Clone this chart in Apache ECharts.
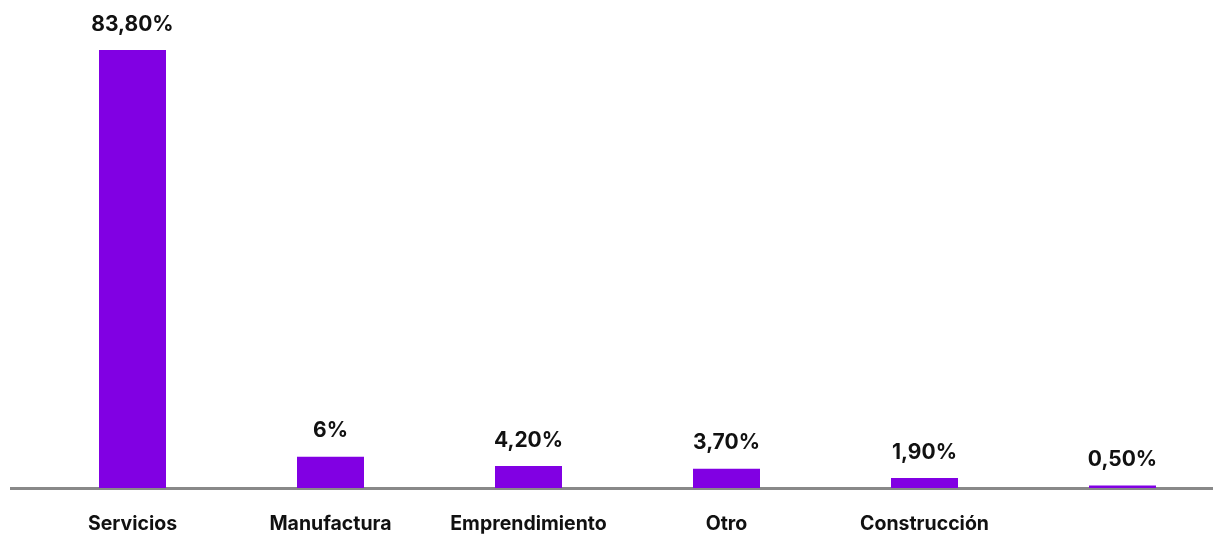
<!DOCTYPE html>
<html>
<head>
<meta charset="utf-8">
<script src="https://cdn.jsdelivr.net/npm/echarts@6/dist/echarts.min.js"></script>
<style>html,body{margin:0;padding:0;background:#fff}#c{width:1213px;height:535px}</style>
</head>
<body>
<div id="c"></div>
<script>
const categories = ['Servicios', 'Manufactura', 'Emprendimiento', 'Otro', 'Construcción', ''];
const values = [83.8, 6, 4.2, 3.7, 1.9, 0.5];
const valueLabels = ['83,80%', '6%', '4,20%', '3,70%', '1,90%', '0,50%'];

const chart = echarts.init(document.getElementById('c'), null, {renderer: 'canvas'});
const font = 'Inter, "Noto Sans", sans-serif';
chart.setOption({
  animation: false,
  grid: {left: 33.5, width: 1188, top: 50, bottom: 47, containLabel: false, outerBoundsMode: 'none'},
  xAxis: {
    type: 'category',
    data: categories,
    axisLine: {show: true, lineStyle: {color: '#898989', width: 3}},
    axisTick: {show: false},
    axisLabel: {interval: 0, hideOverlap: false, color: '#111', fontFamily: font, fontWeight: 'bold', fontSize: 19.5, margin: 26}
  },
  yAxis: {
    type: 'value', min: 0, max: 83.8,
    show: false, splitLine: {show: false}
  },
  graphic: [{
    type: 'line', shape: {x1: 10, y1: 488.5, x2: 40, y2: 488.5},
    style: {stroke: '#898989', lineWidth: 3}
  }],
  series: [{
    type: 'bar',
    data: values,
    barWidth: 67,
    itemStyle: {color: '#8100E3'},
    label: {
      show: true, position: 'top', distance: 15,
      color: '#111', fontFamily: font, fontWeight: 'bold', fontSize: 21,
      formatter: p => valueLabels[p.dataIndex]
    }
  }]
});
</script>
</body>
</html>
